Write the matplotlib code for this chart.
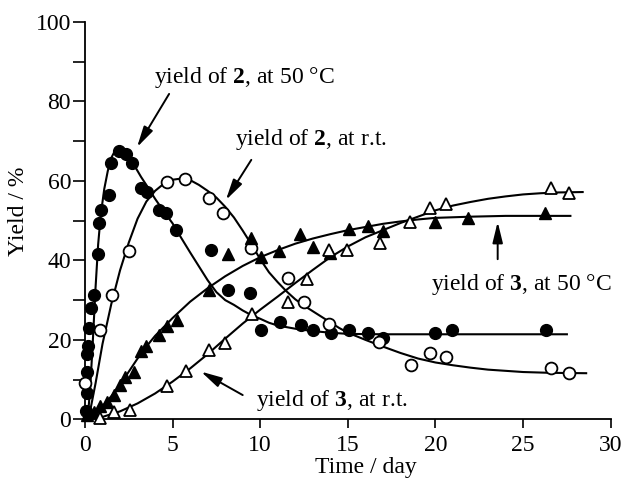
import matplotlib
matplotlib.use("Agg")
import matplotlib.pyplot as plt

plt.rcParams['font.family'] = ['Liberation Serif', 'DejaVu Serif']
plt.rcParams['mathtext.fontset'] = 'custom'
plt.rcParams['mathtext.rm'] = 'Liberation Serif'
plt.rcParams['mathtext.bf'] = 'Liberation Serif:bold'

# ---- measured data ----
# yield of 2 at 50 °C (filled circles)
x2_50 = [0.05, 0.10, 0.12, 0.10, 0.15, 0.25, 0.35, 0.51, 0.76, 0.80, 0.90, 1.37, 1.50, 1.94,
         2.33, 2.70, 3.18, 3.56, 4.23, 4.60, 5.18, 7.18, 8.14, 9.43, 10.04, 11.10, 12.33,
         13.00, 14.05, 15.05, 16.13, 17.00, 19.95, 20.97, 26.30]
y2_50 = [2.0, 6.5, 12.0, 16.5, 18.5, 23.0, 28.0, 31.3, 41.6, 49.3, 52.7, 56.5, 64.6, 67.6,
         66.8, 64.6, 58.1, 57.3, 52.7, 51.8, 47.6, 42.6, 32.5, 31.7, 22.5, 24.6, 23.7,
         22.5, 21.6, 22.6, 21.6, 20.5, 21.6, 22.6, 22.6]

# yield of 2 at r.t. (open circles)
x2_rt = [0.00, 0.84, 1.56, 2.52, 4.70, 5.70, 7.09, 7.85, 9.47, 11.57, 12.50, 13.95,
         16.80, 18.60, 19.70, 20.60, 26.60, 27.60]
y2_rt = [9.2, 22.6, 31.3, 42.4, 59.8, 60.6, 55.6, 51.8, 43.0, 35.5, 29.4, 23.9,
         19.5, 13.7, 16.6, 15.6, 12.8, 11.6]

# yield of 3 at 50 °C (filled triangles)
x3_50 = [0.11, 0.50, 0.88, 1.26, 1.64, 2.02, 2.30, 2.78, 3.20, 3.50, 4.23, 4.70, 5.23,
         7.09, 8.14, 9.47, 10.04, 11.08, 12.27, 13.00, 14.00, 15.05, 16.15, 17.00,
         19.95, 21.85, 26.27]
y3_50 = [1.0, 1.9, 3.3, 4.4, 6.0, 8.6, 10.6, 11.8, 17.2, 18.5, 21.2, 23.4, 25.1,
         32.5, 41.6, 45.6, 40.9, 42.4, 46.7, 43.4, 41.8, 47.8, 48.7, 47.4,
         49.7, 50.6, 52.0]

# yield of 3 at r.t. (open triangles)
x3_rt = [0.87, 1.64, 2.55, 4.70, 5.77, 7.09, 8.00, 9.52, 11.60, 12.65, 13.90, 14.95,
         16.85, 18.55, 19.70, 20.60, 26.60, 27.60]
y3_rt = [0.3, 1.8, 2.4, 8.5, 12.2, 17.4, 19.1, 26.4, 29.4, 35.3, 42.6, 42.6,
         44.5, 49.7, 53.1, 54.3, 58.1, 56.9]

# ---- fitted curves ----
cx2_50 = [0.15, 0.30, 0.45, 0.60, 0.75, 0.90, 1.10, 1.30, 1.50, 1.70, 1.95, 2.20, 2.50,
          2.80, 3.20, 3.60, 4.00, 4.50, 5.00, 5.50, 6.00, 6.50, 7.00, 7.50, 8.00, 8.50,
          9.00, 9.50, 10.00, 10.50, 11.00, 12.00, 13.00, 14.00, 15.00, 17.00, 27.50]
cy2_50 = [0.0, 8.0, 20.0, 33.0, 44.0, 51.5, 58.0, 62.5, 65.8, 67.5, 68.2, 67.6, 66.0,
          64.0, 61.0, 58.3, 55.5, 52.3, 49.3, 45.6, 42.0, 38.5, 35.0, 32.0, 30.0, 28.8,
          27.4, 26.2, 25.3, 24.3, 23.6, 22.8, 22.2, 21.8, 21.5, 21.4, 21.4]

cx2_rt = [0.20, 0.60, 1.00, 1.50, 2.00, 2.50, 3.00, 3.50, 4.00, 4.50, 5.00, 5.50, 6.00,
          6.50, 7.00, 7.50, 8.00, 8.50, 9.00, 9.50, 10.00, 10.50, 11.00, 11.50, 12.00,
          12.50, 13.00, 13.50, 14.00, 14.50, 15.00, 16.00, 17.00, 18.00, 19.00, 20.00,
          21.00, 22.00, 23.00, 24.00, 25.00, 26.50, 28.60]
cy2_rt = [0.0, 9.0, 19.0, 29.0, 37.5, 44.5, 50.5, 54.8, 57.5, 59.3, 60.3, 60.6, 60.2,
          59.0, 57.5, 55.8, 53.5, 50.8, 47.5, 44.0, 40.3, 37.0, 34.5, 32.2, 30.2,
          28.6, 27.2, 25.8, 24.4, 23.0, 21.8, 20.0, 18.3, 16.7, 15.3, 14.3,
          13.6, 13.0, 12.5, 12.2, 11.9, 11.7, 11.6]

cx3_50 = [0.00, 0.50, 1.00, 1.50, 2.00, 2.50, 3.00, 3.50, 4.00, 5.00, 6.00, 7.00, 8.00,
          9.00, 10.00, 11.00, 12.00, 13.00, 14.00, 15.00, 16.00, 17.00, 18.00, 19.00,
          20.00, 22.00, 24.00, 27.70]
cy3_50 = [0.0, 1.5, 3.3, 5.8, 8.7, 12.0, 15.3, 18.3, 21.0, 25.5, 29.6, 33.0, 36.0,
          38.6, 40.8, 42.6, 44.2, 45.5, 46.6, 47.6, 48.4, 49.2, 49.8, 50.3,
          50.7, 51.0, 51.2, 51.2]

cx3_rt = [0.30, 1.00, 2.00, 3.00, 4.00, 5.00, 6.00, 7.00, 8.00, 9.00, 10.00, 11.00,
          12.00, 13.00, 14.00, 15.00, 16.00, 17.00, 18.00, 19.00, 20.00, 21.00, 22.00,
          23.00, 24.00, 25.00, 26.00, 27.00, 28.40]
cy3_rt = [0.0, 0.6, 2.0, 4.0, 6.5, 9.5, 12.8, 16.4, 20.3, 24.1, 27.6, 30.9,
          34.3, 37.6, 40.8, 43.5, 45.8, 47.6, 49.4, 51.0, 52.6, 53.8, 54.7,
          55.5, 56.1, 56.6, 56.9, 57.1, 57.2]

xticks = [0, 5, 10, 15, 20, 25, 30]
yticks = [0, 10, 20, 30, 40, 50, 60, 70, 80, 90, 100]
ytick_labels = ['0', '', '20', '', '40', '', '60', '', '80', '', '100']

annotations = [
    ("yield of $\\mathbf{2}$, at 50 °C", (3.95, 84.6), (4.8, 81.9), (2.97, 68.5)),
    ("yield of $\\mathbf{2}$, at r.t.", (8.58, 69.0), (9.49, 65.3), (8.04, 55.2)),
    ("yield of $\\mathbf{3}$, at 50 °C", (19.77, 32.5), (23.55, 40.3), (23.55, 49.7)),
    ("yield of $\\mathbf{3}$, at r.t.", (9.76, 3.4), (9.0, 6.1), (6.62, 12.0)),
]

# ---- figure ----
fig = plt.figure(figsize=(6.25, 4.83), dpi=100)
ax = fig.add_axes([85 / 625, 1 - 419.3 / 483, (610.7 - 85) / 625, (419.3 - 22) / 483])

lw = 1.5
for cx, cy in [(cx2_50, cy2_50), (cx2_rt, cy2_rt), (cx3_50, cy3_50), (cx3_rt, cy3_rt)]:
    ax.plot(cx, cy, color='black', lw=lw, clip_on=False, zorder=2)

ax.plot(x2_50, y2_50, 'o', ms=8.5, mfc='black', mec='black', clip_on=False, zorder=3)
ax.plot(x2_rt, y2_rt, 'o', ms=8.5, mfc='white', mec='black', mew=1.3, clip_on=False, zorder=3)
ax.plot(x3_50, y3_50, '^', ms=8.5, mfc='black', mec='black', clip_on=False, zorder=3)
ax.plot(x3_rt, y3_rt, '^', ms=8.0, mfc='white', mec='black', mew=1.3, clip_on=False, zorder=3)

for text, tpos, tail, tip in annotations:
    ax.text(tpos[0], tpos[1], text, fontsize=17, ha='left', va='baseline', zorder=5)
    ax.annotate('', xy=tip, xytext=tail,
                arrowprops=dict(arrowstyle='-|>,head_length=0.9,head_width=0.22',
                                lw=1.4, color='black', shrinkA=0, shrinkB=0,
                                mutation_scale=14))

ax.set_xlim(0, 30)
ax.set_ylim(0, 100)
ax.set_xticks(xticks)
ax.set_xticklabels([str(t) for t in xticks])
ax.set_yticks(yticks)
ax.set_yticklabels(ytick_labels)
ax.spines['top'].set_visible(False)
ax.spines['right'].set_visible(False)
for s in ['left', 'bottom']:
    ax.spines[s].set_linewidth(1.3)
ax.tick_params(axis='x', direction='out', length=6.5, width=1.2, pad=5, labelsize=17)
ax.tick_params(axis='y', direction='out', length=8.5, width=1.2, pad=1.5, labelsize=17)

fig.text(19 / 625, 1 - 211.5 / 483, 'Yield / %', rotation=90, fontsize=17,
         ha='center', va='center')
fig.text(365.5 / 625, 1 - 473.3 / 483, 'Time / day', fontsize=17,
         ha='center', va='baseline')

fig.savefig('out.png', dpi=100)
